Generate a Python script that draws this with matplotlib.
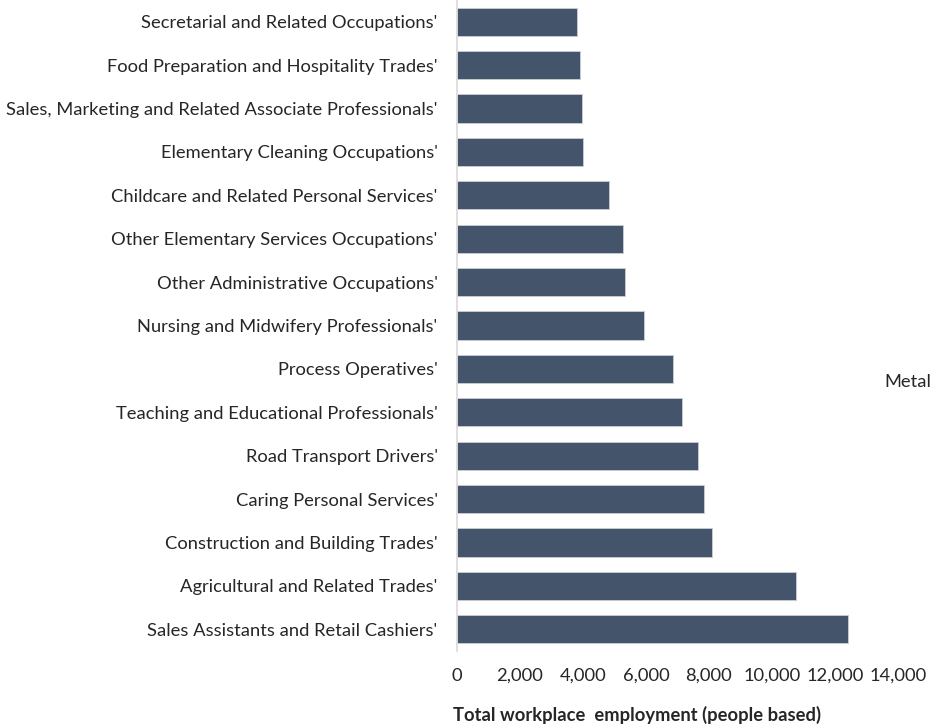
import numpy as np
import matplotlib.pyplot as plt

occupations = [
    "Sales Assistants and Retail Cashiers'",
    "Agricultural and Related Trades'",
    "Construction and Building Trades'",
    "Caring Personal Services'",
    "Road Transport Drivers'",
    "Teaching and Educational Professionals'",
    "Process Operatives'",
    "Nursing and Midwifery Professionals'",
    "Other Administrative Occupations'",
    "Other Elementary Services Occupations'",
    "Childcare and Related Personal Services'",
    "Elementary Cleaning Occupations'",
    "Sales, Marketing and Related Associate Professionals'",
    "Food Preparation and Hospitality Trades'",
    "Secretarial and Related Occupations'",
]
employment = [12410, 10750, 8085, 7850, 7660, 7130, 6850, 5940,
              5335, 5280, 4815, 4000, 3960, 3900, 3810]
xticks = np.arange(0, 14001, 2000)

plt.rcParams['font.family'] = ['Lato', 'DejaVu Sans']
fs = 13.2

fig = plt.figure(figsize=(9.33, 7.24), dpi=100)
ax = fig.add_axes([457 / 933, 1 - 651 / 724, (898 - 457) / 933, 651 / 724])

y = np.arange(len(occupations))
ax.barh(y, employment, height=0.65, color='#44546A', edgecolor='#c9ced6', linewidth=0.6)

ax.set_xlim(0, 14000)
ax.set_ylim(-0.5, len(occupations) - 0.5)
ax.set_yticks(y)
ax.set_yticklabels(occupations, fontsize=fs, color='#262626')
ax.set_xticks(xticks)
ax.set_xticklabels(["{:,}".format(v) for v in xticks], fontsize=fs, color='#262626')
ax.tick_params(axis='y', length=0, pad=14)
ax.tick_params(axis='x', length=0, pad=12)

for side in ['top', 'right', 'bottom']:
    ax.spines[side].set_visible(False)
ax.spines['left'].set_color('#d9d9d9')
ax.spines['left'].set_linewidth(1.2)

fig.text(637 / 933, 1 - 715 / 724, "Total workplace  employment (people based)",
         ha='center', va='center', fontsize=fs, fontweight='bold', color='#262626')
fig.text(931 / 933, 1 - 382 / 724, "Metal", ha='right', va='center',
         fontsize=fs, color='#262626')

fig.savefig('out.png', dpi=100)
